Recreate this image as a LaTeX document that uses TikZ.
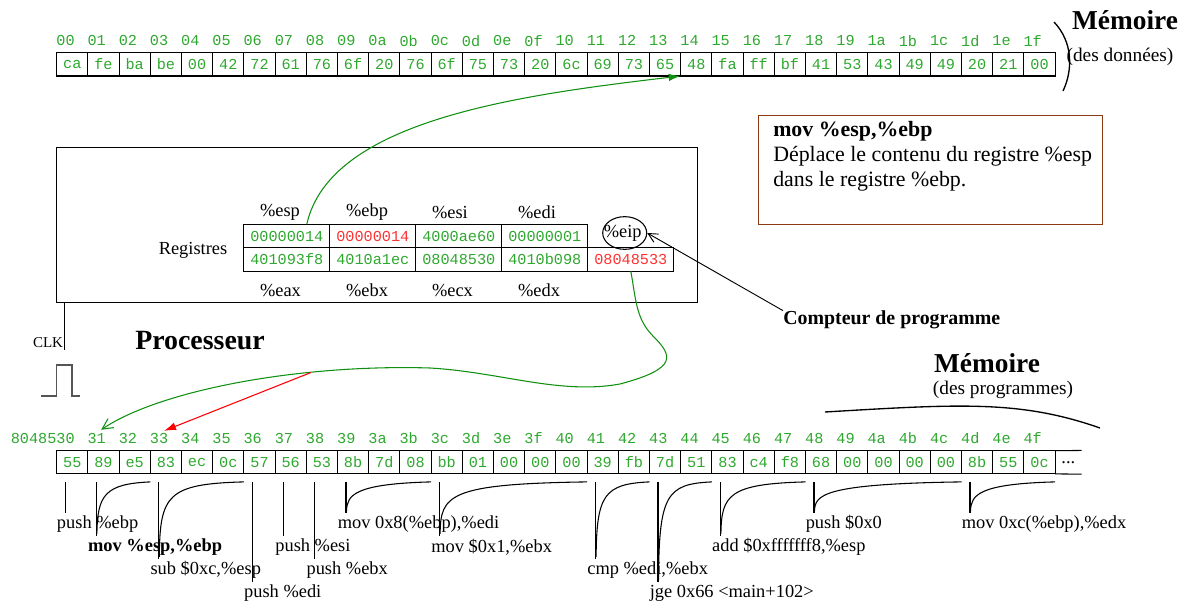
\documentclass[tikz,border=0pt]{standalone}
\usepackage{fontspec}
\setmainfont{Liberation Serif}
\setmonofont{Liberation Mono}
\usepackage{xcolor}
\usepackage{tikz}
\usetikzlibrary{calc,arrows.meta,positioning,shapes.geometric}
\definecolor{hexg}{HTML}{2EA82E}
\definecolor{lineg}{HTML}{109010}
\definecolor{hexr}{HTML}{FF3030}
\definecolor{brn}{HTML}{8B3A12}
\definecolor{clkg}{HTML}{555555}
\newcommand{\hexf}{\fontsize{11.4}{13}\selectfont\ttfamily}
\newcommand{\labf}{\fontsize{13.8}{16}\selectfont}
\tikzset{
  cell/.style={draw,line width=.8pt,inner sep=0,outer sep=0,minimum width=23.4pt,minimum height=17.4pt,font=\hexf,text=hexg},
  adr/.style={inner sep=0,anchor=east,font=\hexf,text=hexg},
  reg/.style={draw,line width=.8pt,inner sep=0,outer sep=0,minimum width=64.5pt,minimum height=17.6pt,font=\hexf,text=hexg},
  rn/.style={inner sep=0,anchor=west,font=\labf},
  lbl/.style={inner sep=0,anchor=west,font=\labf},
  brk/.style={line width=.8pt},
  gar/.style={-{Latex[length=9pt,width=5.5pt]},lineg,line width=.8pt},
  gop/.style={-{Straight Barb[length=8pt,width=8pt]},lineg,line width=.8pt},
  rar/.style={-{Latex[length=9pt,width=6pt]},red,line width=.8pt},
  kar/.style={-{Straight Barb[length=7pt,width=7pt]},line width=.7pt}
}
% #1 options, #2 first byte, #3 last byte, #4 drop, #5 text
\newcommand{\asmop}[5][]{%
  \node[lbl,#1] (op#2) at ($(p#2.south west)+(0,#4)$) {#5};
  \draw[brk] ($(p#2.south west)+(8.5,8)$) -- ($(p#2.south west)+(8.5,#4-11)$);
  \ifnum#2<#3 \draw[brk] ($(p#3.south east)+(0,8)$) .. controls ($(p#2.south west)+(17,10)$) and ($(p#2.south west)+(9.5,21)$) .. ($(p#2.south west)+(9,#4-13)$);\fi}

\begin{document}
\begin{tikzpicture}[x=0.75pt,y=-0.75pt]
\useasboundingbox (0,0) rectangle (1187,605);
% memoire des donnees
\foreach \ad/\bt [count=\i from 0] in {00/ca,01/fe,02/ba,03/be,04/00,05/42,06/72,07/61,08/76,09/6f,0a/20,0b/76,0c/6f,0d/75,0e/73,0f/20,10/6c,11/69,12/73,13/65,14/48,15/fa,16/ff,17/bf,18/41,19/53,1a/43,1b/49,1c/49,1d/20,1e/21,1f/00}{
  \node[cell] (d\i) at ({72.3+31.2*\i},64.4) {\bt};
  \node[adr] (da\i) at ($(d\i.north west)+(18.2,-12)$) {\ad};
}
\draw[line width=1pt] (1054,22) .. controls (1073,42) and (1073,70) .. (1063,91);
\node[font=\fontsize{20.5}{24}\selectfont\bfseries] (memd) at (1125,20) {Mémoire};
\node[font=\fontsize{14.5}{17}\selectfont] (memdsub) at (1120,57) {(des données)};

% explication
\node[draw=brn,line width=1.1pt,inner sep=0,minimum width=258pt,minimum height=81.75pt,anchor=north west] (info) at (758,115) {};
\node[anchor=north west,inner sep=0,align=left,font=\fontsize{16.4}{18.4}\selectfont] (infotxt) at ($(info.north west)+(15,6.5)$) {\textbf{mov \%esp,\%ebp}\\Déplace le contenu du registre \%esp\\dans le registre \%ebp.};

% processeur
\node[draw,line width=.8pt,inner sep=0,minimum width=480.75pt,minimum height=116.25pt,anchor=north west] (cpu) at (56,147) {};
\node[reg] (esp) at (286.8,236) {00000014};
\node[reg,text=hexr,right=0pt of esp] (ebp) {00000014};
\node[reg,right=0pt of ebp] (esi) {4000ae60};
\node[reg,right=0pt of esi] (edi) {00000001};
\node[reg,below=0pt of esp] (eax) {401093f8};
\node[reg,right=0pt of eax] (ebx) {4010a1ec};
\node[reg,right=0pt of ebx] (ecx) {08048530};
\node[reg,right=0pt of ecx] (edx) {4010b098};
\node[reg,text=hexr,right=0pt of edx] (eipv) {08048533};
\foreach \rg in {esp,ebp,esi,edi} \node[rn] (n\rg) at ($(\rg.north west)+(16,-12)$) {\%\rg};
\foreach \rg in {eax,ebx,ecx,edx} \node[rn] (n\rg) at ($(\rg.south west)+(16,19)$) {\%\rg};
\node[ellipse,draw,line width=.8pt,inner sep=0,minimum width=33pt,minimum height=24.5pt] (eip) at (624.7,233) {};
\node[font=\labf,inner sep=0] (neip) at ($(eip)+(-2,0)$) {\%eip};
\node[font=\labf] (regs) at (193,250) {Registres};
\node[font=\fontsize{20.9}{24}\selectfont\bfseries] (cpuname) at (200,341) {Processeur};

% horloge
\node[font=\fontsize{11.25}{13}\selectfont,inner sep=0] (clk) at (48,343) {CLK};
\draw[line width=.8pt] ($(cpu.south west)+(8.5,0)$) -- ++(0,47);
\draw[clkg,line width=1pt] (41,396) -- ++(15.7,0) -- ++(0,-31) -- ++(15.3,0) -- ++(0,31) -- ++(8,0);

% memoire des programmes
\foreach \ad/\bt [count=\i from 0] in {8048530/55,31/89,32/e5,33/83,34/ec,35/0c,36/57,37/56,38/53,39/8b,3a/7d,3b/08,3c/bb,3d/01,3e/00,3f/00,40/00,41/39,42/fb,43/7d,44/51,45/83,46/c4,47/f8,48/68,49/00,4a/00,4b/00,4c/00,4d/8b,4e/55,4f/0c}{
  \node[cell] (p\i) at ({72.3+31.2*\i},462.3) {\bt};
  \node[adr] (pa\i) at ($(p\i.north west)+(18.2,-12.5)$) {\ad};
}
\node[anchor=west,inner sep=0,minimum width=19.5pt,minimum height=17.4pt,font=\labf] (pdots) at (p31.east) {...};
\draw[line width=.8pt] (p31.north east) -- (pdots.north east) (p31.south east) -- (pdots.south east);
\draw[line width=1pt] (825,412) .. controls (960,404) and (1020,400) .. (1100,428);
\node[font=\fontsize{20.5}{24}\selectfont\bfseries] (memp) at (987,363) {Mémoire};
\node[font=\fontsize{14.5}{17}\selectfont] (mempsub) at (1003,390) {(des programmes)};

% compteur de programme
\node[anchor=west,inner sep=0,font=\fontsize{14.9}{17}\selectfont\bfseries] (cpt) at (783,320) {Compteur de programme};
\draw[kar] (cpt.north west) -- (eip.east);

% fleches
\draw[gar] ([xshift=15pt]esp.north) .. controls (330,120) and (520,95) .. (d20.south west);
\draw[gop,shorten >=4pt] (eipv.south) .. controls (636,300) and (636,318) .. (652,335) .. controls (672,355) and (680,368) .. (620,384) .. controls (560,395) and (500,372) .. (430,368) .. controls (300,364) and (160,390) .. (pa1.north);
\coordinate (fork) at (311,372.5);
\draw[rar,shorten >=4pt] (fork) -- (pa3.north);

% instructions
\asmop{0}{0}{50}{push \%ebp}
\asmop[font=\labf\bfseries]{1}{2}{73}{mov \%esp,\%ebp}
\asmop{3}{5}{96}{sub \$0xc,\%esp}
\asmop{6}{6}{119}{push \%edi}
\asmop{7}{7}{73}{push \%esi}
\asmop{8}{8}{96}{push \%ebx}
\asmop{9}{11}{50}{mov 0x8(\%ebp),\%edi}
\asmop{12}{16}{73}{mov \$0x1,\%ebx}
\asmop{17}{18}{96}{cmp \%edi,\%ebx}
\asmop{19}{20}{119}{jge 0x66 \textless main+102\textgreater}
\asmop{21}{23}{73}{add \$0xfffffff8,\%esp}
\asmop{24}{28}{50}{push \$0x0}
\asmop{29}{31}{50}{mov 0xc(\%ebp),\%edx}
\end{tikzpicture}
\end{document}
